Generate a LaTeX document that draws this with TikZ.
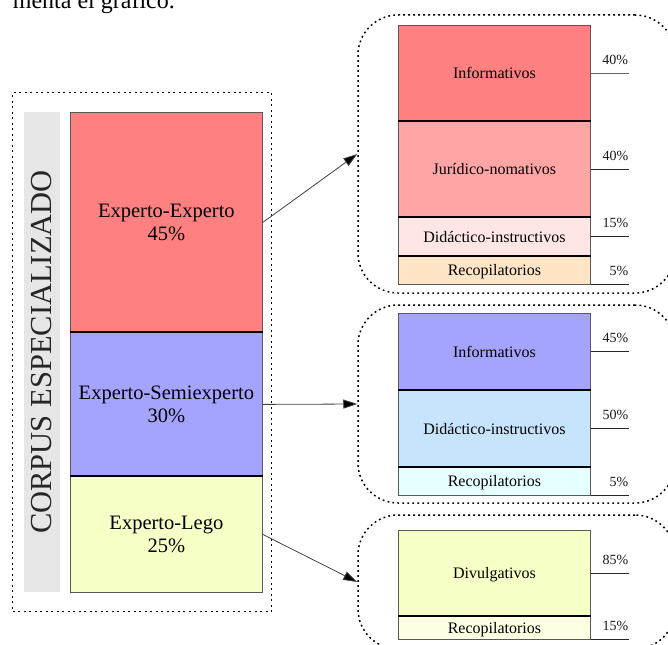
\documentclass[tikz,border=0pt]{standalone}
\usepackage{fontspec}
\setmainfont{Liberation Serif}
\usetikzlibrary{arrows.meta}
\definecolor{cRed}{HTML}{FF8080}
\definecolor{cBlue}{HTML}{A4A4FF}
\definecolor{cYel}{HTML}{F6FFC6}
\definecolor{cJur}{HTML}{FFA5A5}
\definecolor{cDidR}{HTML}{FFE6E6}
\definecolor{cRecR}{HTML}{FFE4C6}
\definecolor{cDidB}{HTML}{C6E4FC}
\definecolor{cRecB}{HTML}{E6FFFF}
\definecolor{cRecY}{HTML}{FFFFE4}
\definecolor{cStrip}{HTML}{E6E6E6}
\begin{document}
\begin{tikzpicture}[x=1pt,y=-1pt,
  seg/.style={draw=black!65, line width=0.8pt, inner sep=0pt, minimum width=192pt,
    anchor=north west, text height=10.6pt, text depth=0pt, font=\fontsize{16}{18}\selectfont},
  bigseg/.style={draw=black!65, line width=0.8pt, inner sep=0pt, minimum width=192pt,
    anchor=north west, align=center, font=\fontsize{20.5}{23}\selectfont},
  sepline/.style={black, line width=1.6pt},
  pline/.style={black!85, line width=1pt},
  pct/.style={anchor=base east, inner sep=0pt, yshift=9pt, text=black!90,
    font=\fontsize{14}{16}\selectfont},
  grp/.style={draw=black, line width=1.5pt, dash pattern=on 1.8pt off 3.2pt,
    rounded corners=40pt, inner sep=0pt},
  link/.style={draw=black!75, line width=0.8pt, -{Triangle[length=14pt,width=9pt,fill=black]}}
]
\useasboundingbox (0,0) rectangle (668,644);
\clip (0,0) rectangle (668,644);

% cut-off line of text at the top
\node[anchor=base east, inner sep=0pt, font=\fontsize{24}{26}\selectfont] (title) at (175,9) {menta el gráfico.};

% left container
\node[draw=black, line width=1.1pt, dash pattern=on 2pt off 3.5pt, inner sep=0pt,
  minimum width=259pt, minimum height=519pt] (corpus) at (142.3,352.2) {};
\node[fill=cStrip, rotate=90, inner sep=0pt, minimum width=480pt, minimum height=36pt,
  text=black!85, font=\fontsize{30.5}{32}\selectfont] (strip) at (42,352) {CORPUS ESPECIALIZADO};

% main bars
\node[bigseg, fill=cRed, minimum height=220pt] (ee) at (70,112) {Experto-Experto\\45\%};
\node[bigseg, fill=cBlue, minimum height=144pt] (es) at (70,332) {Experto-Semiexperto\\30\%};
\node[bigseg, fill=cYel, minimum height=116pt] (el) at (70,476) {Experto-Lego\\25\%};
\draw[sepline] (es.north west) -- (es.north east);
\draw[sepline] (el.north west) -- (el.north east);

% group boxes
\node[grp, minimum width=317pt, minimum height=278pt] (g1) at (516.5,154) {};
\node[grp, minimum width=317pt, minimum height=198pt] (g2) at (516.5,404) {};
\node[grp, minimum width=317pt, minimum height=134pt] (g3) at (516.5,582) {};

% box 1
\node[seg, fill=cRed, minimum height=96pt] (a1) at (398,25) {Informativos};
\node[seg, fill=cJur, minimum height=96pt] (a2) at (398,121) {Jurídico-nomativos};
\node[seg, fill=cDidR, minimum height=39pt] (a3) at (398,217) {Didáctico-instructivos};
\node[seg, fill=cRecR, minimum height=28pt] (a4) at (398,256) {Recopilatorios};
\draw[sepline] (a2.north west) -- (a2.north east);
\draw[sepline] (a3.north west) -- (a3.north east);
\draw[sepline] (a4.north west) -- (a4.north east);
\draw[pline, draw=black!60, line width=1.4pt] (a1.east) -- ++(38,0) node[pct] (pa1) {40\%};
\draw[pline] (a2.east) -- ++(38,0) node[pct] (pa2) {40\%};
\draw[pline] (a3.east) -- ++(38,0) node[pct] (pa3) {15\%};
\draw[pline] (a4.south east) -- ++(38,0) node[pct] (pa4) {5\%};

% box 2
\node[seg, fill=cBlue, minimum height=77pt] (b1) at (398,313) {Informativos};
\node[seg, fill=cDidB, minimum height=77pt] (b2) at (398,390) {Didáctico-instructivos};
\node[seg, fill=cRecB, minimum height=28pt] (b3) at (398,467) {Recopilatorios};
\draw[sepline] (b2.north west) -- (b2.north east);
\draw[sepline] (b3.north west) -- (b3.north east);
\draw[pline] (b1.east) -- ++(38,0) node[pct] (pb1) {45\%};
\draw[pline] (b2.east) -- ++(38,0) node[pct] (pb2) {50\%};
\draw[pline] (b3.south east) -- ++(38,0) node[pct] (pb3) {5\%};

% box 3
\node[seg, fill=cYel, minimum height=86pt] (c1) at (398,530) {Divulgativos};
\node[seg, fill=cRecY, minimum height=23pt] (c2) at (398,616) {Recopilatorios};
\draw[sepline] (c2.north west) -- (c2.north east);
\draw[pline] (c1.east) -- ++(38,0) node[pct] (pc1) {85\%};
\draw[pline] (c2.south east) -- ++(38,0) node[pct] (pc2) {15\%};

% connectors
\draw[link] (ee.east) -- (g1.west);
\draw[link] (es.east) -- (g2.west);
\draw[link] (el.east) -- (g3.west);
\end{tikzpicture}
\end{document}
